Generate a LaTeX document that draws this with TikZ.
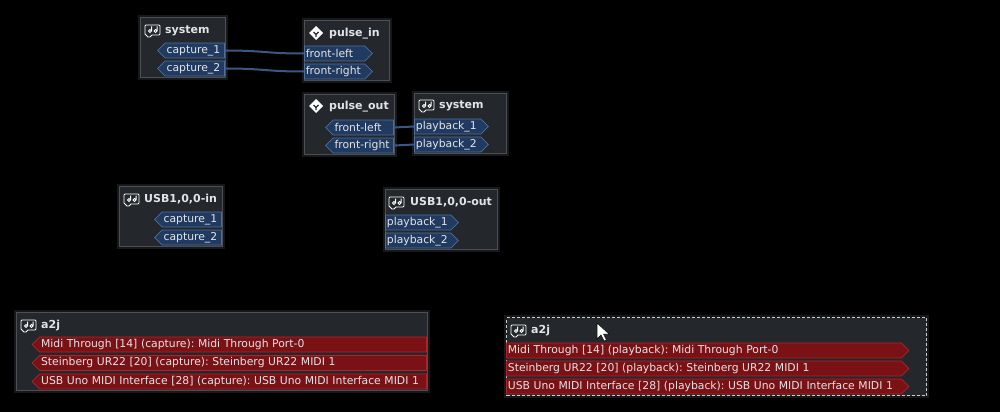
\documentclass[tikz,border=0pt]{standalone}
\usepackage{fontspec}
\setmainfont{DejaVu Sans}
\usetikzlibrary{shapes.symbols}

\definecolor{boxfill}{HTML}{24272B}
\definecolor{boxline}{HTML}{4C5054}
\definecolor{glow}{HTML}{17181A}
\definecolor{audiofill}{HTML}{213B60}
\definecolor{audioline}{HTML}{4F6E9C}
\definecolor{midifill}{HTML}{7A1114}
\definecolor{midiline}{HTML}{A8262C}
\definecolor{wirecol}{HTML}{3A5884}
\definecolor{porttext}{HTML}{E2E4E8}

% small client icons
\newcommand{\cardicon}[1]{%
  \begin{scope}[shift={#1}, draw=white, line width=0.9pt]
    \draw[rounded corners=1] (-8,-5) -- (7,-5) -- (7,5) -- (-2,5) -- (-2,7) -- (-6,7) -- (-6,5) -- (-8,5) -- cycle;
    \draw (-3,1) circle (1.6) (-1.4,1) -- (-1.4,-3.5);
    \draw (2.5,1) circle (1.6) (4.1,1) -- (4.1,-3.5);
  \end{scope}}
\newcommand{\pulseicon}[1]{%
  \begin{scope}[shift={#1}]
    \fill[white] (0,-7) -- (7,0) -- (0,7) -- (-7,0) -- cycle;
    \draw[boxfill, line width=1.3pt] (-2.5,-1) -- (0,1.5) -- (2.5,-1) (0,1.5) -- (0,4);
  \end{scope}}

\begin{document}
\frenchspacing
\begin{tikzpicture}[x=1pt, y=-1pt,
    grp/.style={rectangle, draw=boxline, fill=boxfill, line width=1pt,
                anchor=north west, inner sep=0,
                preaction={draw=glow, line width=5pt, solid}},
    title/.style={anchor=west, inner sep=0, text=porttext, yshift=-1.5pt,
                  font=\bfseries\fontsize{11}{13}\selectfont},
    port/.style={signal, signal pointer angle=90, minimum height=15,
                 inner xsep=1.5, inner ysep=0, line width=0.8pt, yshift=-1.5pt,
                 text width=#1, align=left, text=porttext,
                 font=\fontsize{10.8}{13}\selectfont},
    outport/.style={port=#1, signal to=west, anchor=east},
    inport/.style={port=#1, signal to=east, anchor=west},
    audio/.style={fill=audiofill, draw=audioline},
    midi/.style={fill=midifill, draw=midiline},
    link/.style={draw=wirecol, line width=2pt}]

\fill[black] (0,0) rectangle (1000,412);
\useasboundingbox (0,0) rectangle (1000,412);

% system (capture)
\node[grp, minimum width=85, minimum height=60] (sysin) at (140,17) {};
\cardicon{(153,30)}
\node[title] (sysint) at (165,29) {system};
\node[outport=56.5, audio] (sic1) at (225,49) {capture\_1};
\node[outport=56.5, audio] (sic2) at (225,67) {capture\_2};

% pulse_in
\node[grp, minimum width=85, minimum height=60] (pulsein) at (304,20) {};
\pulseicon{(316,33)}
\node[title] (pulseint) at (329,32) {pulse\_in};
\node[inport=57.5, audio] (pif1) at (304,52) {front-left};
\node[inport=57.5, audio] (pif2) at (304,70) {front-right};

% pulse_out
\node[grp, minimum width=90, minimum height=60] (pulseout) at (304,94) {};
\pulseicon{(316,106)}
\node[title] (pulseoutt) at (329,105) {pulse\_out};
\node[outport=57.5, audio] (pof1) at (394,126) {front-left};
\node[outport=57.5, audio] (pof2) at (394,144) {front-right};

% system (playback)
\node[grp, minimum width=92, minimum height=60] (sysout) at (414,93) {};
\cardicon{(427,105)}
\node[title] (sysoutt) at (439,104) {system};
\node[inport=63.5, audio] (sop1) at (414,125) {playback\_1};
\node[inport=63.5, audio] (sop2) at (414,143) {playback\_2};

% USB1,0,0-in
\node[grp, minimum width=103, minimum height=60] (usbin) at (119,186) {};
\cardicon{(132,199)}
\node[title] (usbint) at (144,198) {USB1,0,0-in};
\node[outport=56.5, audio] (uic1) at (222,218) {capture\_1};
\node[outport=56.5, audio] (uic2) at (222,236) {capture\_2};

% USB1,0,0-out
\node[grp, minimum width=112, minimum height=60] (usbout) at (385,189) {};
\cardicon{(397,202)}
\node[title] (usboutt) at (410,201) {USB1,0,0-out};
\node[inport=62.5, audio] (uop1) at (385,221) {playback\_1};
\node[inport=62.5, audio] (uop2) at (385,239) {playback\_2};

% a2j (capture)
\node[grp, minimum width=411, minimum height=78] (a2jin) at (16,312) {};
\cardicon{(29,325)}
\node[title] (a2jint) at (41,324) {a2j};
\node[outport=384, midi] (ami1) at (427,343) {Midi Through [14] (capture): Midi Through Port-0};
\node[outport=384, midi] (ami2) at (427,361.5) {Steinberg UR22 [20] (capture): Steinberg UR22 MIDI 1};
\node[outport=384, midi] (ami3) at (427,380) {USB Uno MIDI Interface [28] (capture): USB Uno MIDI Interface MIDI 1};

% a2j (playback), selected
\node[grp, draw=white!80!black, dash pattern=on 3pt off 2pt, minimum width=420, minimum height=78] (a2jout) at (506,317) {};
\cardicon{(519,330)}
\node[title] (a2joutt) at (531,329) {a2j};
\node[inport=392, midi] (amo1) at (506,349) {Midi Through [14] (playback): Midi Through Port-0};
\node[inport=392, midi] (amo2) at (506,367) {Steinberg UR22 [20] (playback): Steinberg UR22 MIDI 1};
\node[inport=392, midi] (amo3) at (506,385) {USB Uno MIDI Interface [28] (playback): USB Uno MIDI Interface MIDI 1};

% connections
\draw[link] (sic1.east) .. controls +(40,0) and +(-40,0) .. (pif1.west);
\draw[link] (sic2.east) .. controls +(40,0) and +(-40,0) .. (pif2.west);
\draw[link] (pof1.east) .. controls +(10,0) and +(-10,0) .. (sop1.west);
\draw[link] (pof2.east) .. controls +(10,0) and +(-10,0) .. (sop2.west);

% mouse pointer
\filldraw[fill=white, draw=black, line width=0.5pt] (597,323) -- ++(0,16) -- ++(4,-4)
  -- ++(3,6) -- ++(2.5,-1) -- ++(-3,-6) -- ++(5.5,0) -- cycle;
\end{tikzpicture}
\end{document}
